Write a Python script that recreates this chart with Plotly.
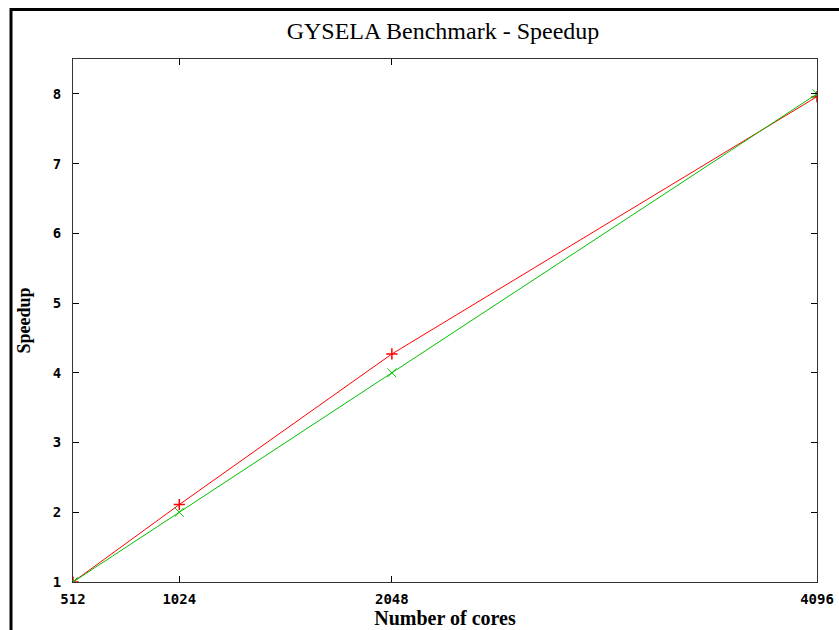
import plotly.graph_objects as go

cores = [512, 1024, 2048, 4096]
speedup_measured = [1.0, 2.11, 4.27, 7.96]
speedup_ideal = [1.0, 2.0, 4.0, 8.0]
x_ticks = [512, 1024, 2048, 4096]
y_ticks = [1, 2, 3, 4, 5, 6, 7, 8]

L, R, T, B = 73, 817, 59, 582
PW, PH = R - L, B - T

fig = go.Figure()
fig.add_trace(go.Scatter(
    x=cores, y=speedup_measured, mode="lines+markers",
    line=dict(color="#ff0000", width=1),
    marker=dict(symbol="cross-thin", size=8, line=dict(color="#ff0000", width=1.5)),
    showlegend=False))
fig.add_trace(go.Scatter(
    x=cores, y=speedup_ideal, mode="lines+markers",
    line=dict(color="#00c000", width=1),
    marker=dict(symbol="x-thin", size=9, line=dict(color="#00c000", width=1)),
    showlegend=False))

tickfont = dict(family="DejaVu Sans Mono", size=14, color="black")
fig.update_layout(
    width=839, height=630,
    margin=dict(l=L, r=839 - R, t=T, b=630 - B, autoexpand=False),
    paper_bgcolor="white", plot_bgcolor="white",
    title=dict(text="GYSELA Benchmark - Speedup", x=443 / 839, xanchor="center",
               y=1 - 31 / 630, yanchor="middle",
               font=dict(family="Liberation Serif", size=24, color="black")),
    xaxis=dict(range=[512, 4096], tickvals=x_ticks, ticktext=[f"<b>{v}</b>" for v in x_ticks],
               ticks="inside", ticklen=6, tickcolor="black", mirror="ticks",
               showline=True, linecolor="#333333", linewidth=1, showgrid=False, zeroline=False,
               tickfont=tickfont, ticklabelstandoff=4, automargin=False,
               title=dict(text="<b>Number of cores</b>", standoff=3,
                          font=dict(family="Liberation Serif", size=20, color="black"))),
    yaxis=dict(range=[1, 8.5], tickvals=y_ticks, ticktext=[f"<b>{v}</b>" for v in y_ticks],
               ticks="inside", ticklen=6, tickcolor="black", mirror="ticks",
               showline=True, linecolor="#333333", linewidth=1, showgrid=False, zeroline=False,
               tickfont=tickfont, ticklabelstandoff=8, automargin=False,
               title=dict(text="<b>Speedup</b>", standoff=17,
                          font=dict(family="Liberation Serif", size=18, color="black"))),
    shapes=[
        dict(type="line", xref="paper", yref="paper",
             x0=(11 - L) / PW, x1=(11 - L) / PW, y0=(B - 8) / PH, y1=(B - 640) / PH,
             line=dict(color="black", width=3)),
        dict(type="line", xref="paper", yref="paper",
             x0=(10 - L) / PW, x1=(850 - L) / PW, y0=(B - 9.5) / PH, y1=(B - 9.5) / PH,
             line=dict(color="black", width=3)),
    ],
)
fig.write_html("out.html")
